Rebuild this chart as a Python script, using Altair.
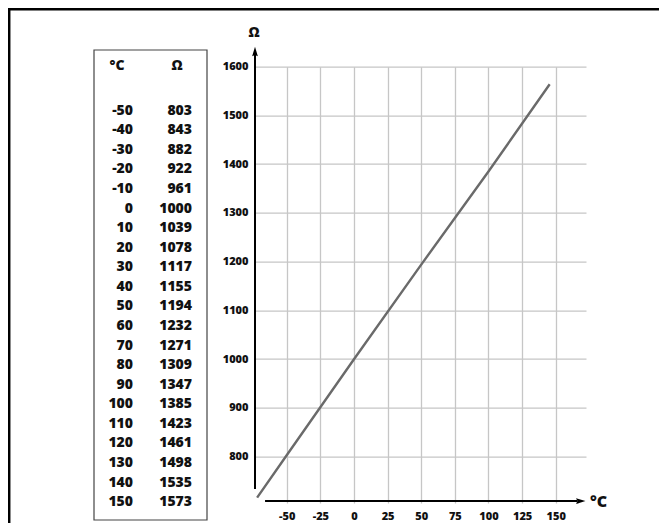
import altair as alt
import pandas as pd

# ---- data ----
temps_c = [-50, -40, -30, -20, -10, 0, 10, 20, 30, 40, 50, 60, 70, 80, 90, 100, 110, 120, 130, 140, 150]
res_ohm = [803, 843, 882, 922, 961, 1000, 1039, 1078, 1117, 1155, 1194, 1232, 1271, 1309, 1347,
           1385, 1423, 1461, 1498, 1535, 1573]
header = ["°C", "Ω"]

line_t = [-72, -50, 0, 50, 100, 145.5]
line_r = [716, 803, 1000, 1194, 1385, 1564]

x_ticks = [-50, -25, 0, 25, 50, 75, 100, 125, 150]
y_ticks = [800, 900, 1000, 1100, 1200, 1300, 1400, 1500, 1600]

# ---- layout ----
FONT = "Open Sans"
W, H = 331, 436.3
PAD = {"left": 247, "top": 58.7, "right": 73, "bottom": 20}
X_DOM = [-73.57, 172.5]
Y_DOM = [705, 1600]
GRID = "#c6c6c6"

xs = alt.Scale(domain=X_DOM, nice=False, zero=False)
ys = alt.Scale(domain=Y_DOM, nice=False, zero=False)

one = alt.Data(values=[{"a": 1}])

# outer frame (only top/left edges fall inside the picture)
frame_top = alt.Chart(one).mark_rule(color="black", strokeWidth=2.5).encode(
    x=alt.value(-247), x2=alt.value(410), y=alt.value(-57.5))
frame_left = alt.Chart(one).mark_rule(color="black", strokeWidth=2.5).encode(
    x=alt.value(-245.8), y=alt.value(-60), y2=alt.value(460))

# table box
box = alt.Chart(one).mark_rect(fill=None, stroke="#444", strokeWidth=1.2).encode(
    x=alt.value(-161), x2=alt.value(-48), y=alt.value(-16.7), y2=alt.value(453.3))

rows = []
for i, (t, r) in enumerate(zip(temps_c, res_ohm)):
    rows.append({"row": i, "col": 0, "label": str(t)})
    rows.append({"row": i, "col": 1, "label": str(r)})
tbl = pd.DataFrame(rows)

TBL_FS = 14
table_text = alt.Chart(tbl).mark_text(
    align="right", baseline="middle", font=FONT, fontWeight=800, fontSize=TBL_FS, color="#111"
).encode(
    x=alt.X("col:Q", scale=alt.Scale(domain=[0, 1], range=[-122, -63]), axis=None),
    y=alt.Y("row:Q", scale=alt.Scale(domain=[0, 20], range=[44, 435.4]), axis=None),
    text="label:N",
)

hdr = pd.DataFrame({"col": [0, 1], "label": header})
table_hdr = alt.Chart(hdr).mark_text(
    align="center", baseline="middle", font=FONT, fontWeight=800, fontSize=TBL_FS, color="#111"
).encode(
    x=alt.X("col:Q", scale=alt.Scale(domain=[0, 1], range=[-138, -78]), axis=None),
    y=alt.value(-1),
    text="label:N",
)

# line chart
line_df = pd.DataFrame({"t": line_t, "r": line_r})
line = alt.Chart(line_df).mark_line(color="#6a6a6a", strokeWidth=2.4).encode(
    x=alt.X("t:Q", scale=xs, title=None,
            axis=alt.Axis(orient="bottom", values=x_ticks, labelExpr="'' + datum.value", grid=True,
                          gridColor=GRID, gridWidth=1.3, domain=False, ticks=False, tickSize=0,
                          labelFont=FONT, labelFontSize=11, labelFontWeight=800, labelColor="#111",
                          labelPadding=7, labelFlush=False)),
    y=alt.Y("r:Q", scale=ys, title=None,
            axis=alt.Axis(orient="left", values=y_ticks, labelExpr="'' + datum.value", grid=True,
                          gridColor=GRID, gridWidth=1.3, domain=False, ticks=False, tickSize=0,
                          labelFont=FONT, labelFontSize=11, labelFontWeight=800, labelColor="#111",
                          labelPadding=7, labelFlush=False)),
)

yaxis_df = pd.DataFrame({"x": [X_DOM[0]], "y1": [733.7], "y2": [1624]})
yaxis_line = alt.Chart(yaxis_df).mark_rule(color="black", strokeWidth=2).encode(
    x=alt.X("x:Q", scale=xs, axis=None), y=alt.Y("y1:Q", scale=ys, axis=None), y2="y2:Q")

xaxis_df = pd.DataFrame({"y": [709], "x1": [-66.1], "x2": [166]})
xaxis_line = alt.Chart(xaxis_df).mark_rule(color="black", strokeWidth=2).encode(
    y=alt.Y("y:Q", scale=ys, axis=None), x=alt.X("x1:Q", scale=xs, axis=None), x2="x2:Q")

up_arrow = alt.Chart(pd.DataFrame({"x": [X_DOM[0]], "y": [1631]})).mark_point(
    shape="M0,-1L0.6,1L0,0.7L-0.6,1Z", size=90, filled=True, color="black", opacity=1
).encode(x=alt.X("x:Q", scale=xs, axis=None), y=alt.Y("y:Q", scale=ys, axis=None))

right_arrow = alt.Chart(pd.DataFrame({"x": [168.6], "y": [709]})).mark_point(
    shape="M1,0L-1,-0.6L-0.7,0L-1,0.6Z", size=90, filled=True, color="black", opacity=1
).encode(x=alt.X("x:Q", scale=xs, axis=None), y=alt.Y("y:Q", scale=ys, axis=None))

ohm_title = alt.Chart(pd.DataFrame({"x": [-74.3], "y": [1669], "label": ["Ω"]})).mark_text(
    font=FONT, fontWeight=800, fontSize=14, color="#111", align="center", baseline="middle"
).encode(x=alt.X("x:Q", scale=xs, axis=None), y=alt.Y("y:Q", scale=ys, axis=None), text="label:N")

deg_title = alt.Chart(pd.DataFrame({"x": [175.5], "y": [707], "label": ["°C"]})).mark_text(
    font=FONT, fontWeight=800, fontSize=16, color="#111", align="left", baseline="middle"
).encode(x=alt.X("x:Q", scale=xs, axis=None), y=alt.Y("y:Q", scale=ys, axis=None), text="label:N")

chart = alt.layer(
    line, frame_top, frame_left, box, table_hdr, table_text,
    yaxis_line, xaxis_line, up_arrow, right_arrow, ohm_title, deg_title,
).resolve_scale(x="independent", y="independent").properties(
    width=W, height=H, padding=PAD, autosize=alt.AutoSizeParams(type="none"), background="white"
).configure_view(stroke=None)

chart.save("out.html", embed_options={"renderer": "svg", "actions": False})
